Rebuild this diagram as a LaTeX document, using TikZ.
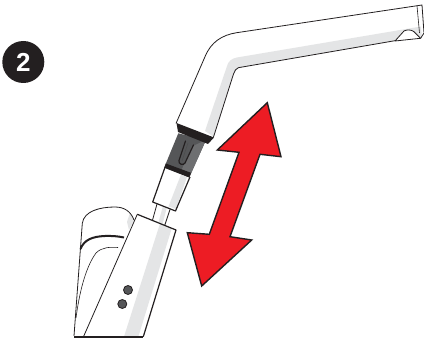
\documentclass[tikz,border=0pt]{standalone}
\usepackage{fontspec}
\setmainfont{Liberation Sans}
\definecolor{strip}{RGB}{228,229,230}
\definecolor{arrowred}{RGB}{237,28,36}
\definecolor{ink}{RGB}{35,31,32}
\definecolor{darkgr}{RGB}{85,86,88}
\definecolor{midgr}{RGB}{110,111,113}
\tikzset{outline/.style={draw=ink,line width=0.8pt,line join=round},
 heavy/.style={draw=ink,line width=1.2pt,line join=round}}
\begin{document}
\begin{tikzpicture}[x=1pt,y=-1pt]
\useasboundingbox (0,0) rectangle (424,339);
% badge
\node[circle,fill=ink,minimum size=42pt,inner sep=0pt,text=white,font=\bfseries\fontsize{26}{26}\selectfont] (badge) at (23.3,62) {2};
% lever behind base
\fill[white] (74,336) -- (82,223) .. controls (84,211) and (100,207) .. (115,207) .. controls (125,207) and (131,212) .. (134,220) -- (140,300) -- cycle;
\fill[strip] (127,222) -- (130,213) .. controls (132,215) and (133,218) .. (134,220) -- (129,230) -- cycle;
\draw[outline] (74,336) -- (82.3,223.3) .. controls (84,211) and (100,207) .. (115,207) .. controls (125,207) and (131,212) .. (134,220);
\draw[draw=ink,line width=2pt] (80.5,249) .. controls (84,240) and (92,236.5) .. (105,236) .. controls (112,235.8) and (118,236.2) .. (124,237.5);
\draw[outline,line width=0.6pt] (76,318) .. controls (79,295) and (85,268) .. (96,253) .. controls (102,247) and (110,247) .. (118,247.5);
% rod
\fill[white] (157,203) -- (152,222) -- (165,226) -- (170,209) -- cycle;
\fill[strip] (163,206) -- (158,224) -- (162,226) -- (167,207) -- cycle;
\draw[outline] (157,204) -- (152,222) (170,209.5) -- (164.5,226);
% lower sleeve
\fill[white] (165,167.3) -- (190,177) -- (176,211) -- (152.7,202) -- cycle;
\fill[strip] (181,174.5) -- (187,177) -- (176,209) -- (168.5,206.5) -- cycle;
\draw[heavy] (165,167.3) -- (152.7,202) -- (175.5,211) -- (190,177);
% dark coupling
\fill[darkgr] (178.3,133.3) -- (206,140) -- (189.3,177.3) -- (164.3,167.3) -- cycle;
\fill[midgr] (193,146) -- (206,140) -- (189.3,177.3) -- (180,173) -- cycle;
\fill[ink] (165.8,163.5) -- (191,172.8) -- (189.3,177.5) -- (164.3,167.8) -- cycle;
\draw[draw=ink,line width=1.2pt,line cap=round] (185.5,141) -- (179,160.5) .. controls (178,164) and (183.5,166) .. (185,163) -- (193.5,145);
\draw[draw=black!70,line width=0.5pt] (188,143) -- (182,161);
% spout
\fill[white] (175,123) -- (205,56.7) .. controls (211,42) and (222,35) .. (236.7,32.7) -- (421,5) -- (424,38) -- (395,40.7) -- (238.3,67.7) .. controls (236,68.5) and (234.5,71) .. (233.5,74) -- (214,137) -- cycle;
\fill[strip] (205,131) -- (226.7,67) .. controls (228,61) and (232,58.5) .. (237,57.5) -- (421,26.5) -- (422,38) -- (395,40.7) -- (238.3,67.7) .. controls (236,68.5) and (234.5,71) .. (233.5,74) -- (214,137) -- cycle;
\draw[outline] (213.5,137) -- (233.5,74) .. controls (234.5,71) and (236,68.5) .. (238.3,67.7) -- (395,40.7);
\draw[outline] (176,123.5) -- (205,56.7) .. controls (211,42) and (222,35) .. (236.7,32.7) -- (422,5) -- (424,33) -- (420.5,38.5);
\draw[outline,line width=0.6pt] (417,5.8) -- (419.5,33);
% collar
\fill[ink] (176.5,123) -- (214,137.5) -- (208,144) -- (178,132) -- cycle;
% nozzle
\draw[outline,fill=white] (395,41) -- (404,31) .. controls (407,29.5) and (411,29.5) .. (414,31.7) -- (420.5,38.3) -- cycle;
% base
\fill[white] (137.3,214.3) -- (176,230) -- (143.3,336.7) -- (83.5,336.7) -- cycle;
\fill[strip] (160,223.5) -- (171.7,228.5) -- (138.3,336.7) -- (124,336.7) -- cycle;
\draw[heavy] (137.3,214.3) -- (176,230) -- (143.3,336.7);
\draw[draw=ink,line width=1.8pt] (74,336.7) -- (143.3,336.7);
\draw[draw=ink,line width=0.8pt] (83.5,336.7) -- (137.3,214.3);
% dots
\node[circle,fill=darkgr,draw=ink,line width=0.8pt,minimum size=9pt,inner sep=0pt] (d1) at (128,290) {};
\node[circle,fill=darkgr,draw=ink,line width=0.8pt,minimum size=9pt,inner sep=0pt] (d2) at (122.3,304) {};
% red arrow
\draw[draw=ink,line width=1.4pt,line join=miter,fill=arrowred] (267.3,102.7) -- (281,156.7) -- (260,154.3) -- (230,236.7) -- (251.7,240) -- (201.7,286) -- (187.3,232.7) -- (209.3,234.3) -- (239,152.3) -- (217.3,150) -- cycle;
\end{tikzpicture}
\end{document}
